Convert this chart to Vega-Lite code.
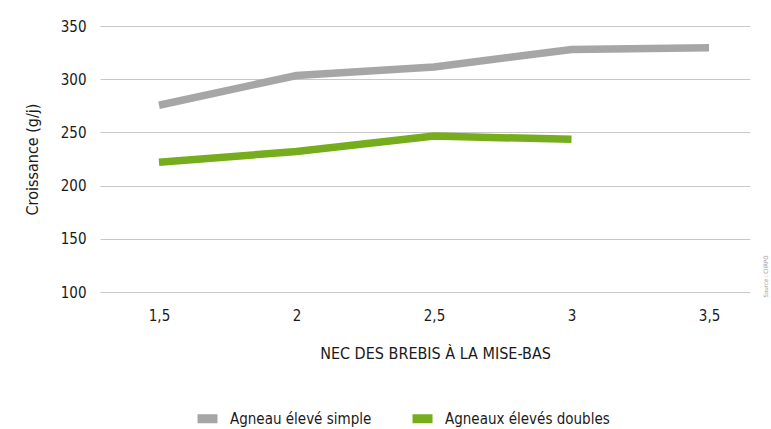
{
  "$schema": "https://vega.github.io/schema/vega-lite/v6.json",
  "autosize": "none",
  "width": 650,
  "height": 266,
  "padding": {"left": 100, "top": 26, "right": 21, "bottom": 137},
  "background": "white",
  "config": {
    "view": {"stroke": null},
    "font": "DejaVu Sans Condensed",
    "axis": {"labelFont": "DejaVu Sans Condensed", "titleFont": "DejaVu Sans Condensed", "labelColor": "#1a1a1a", "titleColor": "#1a1a1a", "titleFontWeight": "normal"},
    "legend": {"labelFont": "DejaVu Sans Condensed"}
  },
  "data": {
    "values": [
      {"nec": 1.5, "croissance": 275.5, "serie": "Agneau élevé simple"},
      {"nec": 2, "croissance": 303.5, "serie": "Agneau élevé simple"},
      {"nec": 2.5, "croissance": 311.5, "serie": "Agneau élevé simple"},
      {"nec": 3, "croissance": 328, "serie": "Agneau élevé simple"},
      {"nec": 3.5, "croissance": 329.5, "serie": "Agneau élevé simple"},
      {"nec": 1.5, "croissance": 222, "serie": "Agneaux élevés doubles"},
      {"nec": 2, "croissance": 232, "serie": "Agneaux élevés doubles"},
      {"nec": 2.5, "croissance": 246.5, "serie": "Agneaux élevés doubles"},
      {"nec": 3, "croissance": 243.5, "serie": "Agneaux élevés doubles"}
    ]
  },
  "resolve": {"axis": {"y": "independent"}},
  "layer": [
    {
      "mark": {"type": "line", "strokeWidth": 7.5, "strokeCap": "butt", "strokeJoin": "miter"},
      "encoding": {
        "x": {
          "field": "nec", "type": "quantitative",
          "scale": {"domain": [1.2855, 3.649], "nice": false, "zero": false},
          "axis": {
            "values": [1.5, 2, 2.5, 3, 3.5],
            "labelExpr": "replace(toString(datum.value), '.', ',')",
            "grid": false, "domain": false, "ticks": false,
            "labelFontSize": 15, "labelPadding": 16,
            "title": "NEC DES BREBIS À LA MISE-BAS",
            "titleFontSize": 16, "titlePadding": 22, "titleX": 335
          }
        },
        "y": {
          "field": "croissance", "type": "quantitative",
          "scale": {"domain": [100, 350], "nice": false, "zero": false},
          "axis": {
            "values": [100, 150, 200, 250, 300, 350],
            "grid": true, "gridColor": "#c8c8c8", "gridWidth": 1.2,
            "domain": false, "ticks": false,
            "labelFontSize": 15, "labelPadding": 14,
            "title": "Croissance (g/j)", "titleFontSize": 16, "titlePadding": 20
          }
        },
        "color": {
          "field": "serie", "type": "nominal",
          "scale": {"domain": ["Agneau élevé simple", "Agneaux élevés doubles"], "range": ["#a6a6a6", "#76ad1c"]},
          "legend": {
            "title": null, "orient": "none", "direction": "horizontal",
            "legendX": 93, "legendY": 378,
            "symbolType": "stroke", "symbolSize": 400, "symbolStrokeWidth": 9,
            "labelFontSize": 15, "columnPadding": 22, "labelOffset": 8, "labelLimit": 300,
            "labelColor": "#1a1a1a"
          }
        }
      }
    },
    {
      "mark": {"type": "line", "strokeOpacity": 0},
      "encoding": {
        "x": {"field": "nec", "type": "quantitative"},
        "y": {
          "field": "croissance", "type": "quantitative",
          "axis": {
            "orient": "right", "labels": false, "grid": false, "ticks": false, "domain": false,
            "title": "Source : CIIRPO", "titleFontSize": 6, "titleColor": "#999999",
            "titlePadding": 18, "titleY": 250, "titleAngle": 270
          }
        },
        "detail": {"field": "serie"}
      }
    }
  ]
}
